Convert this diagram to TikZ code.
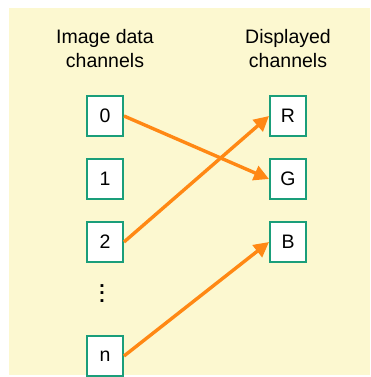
\documentclass[tikz,border=0pt]{standalone}
\usepackage{fontspec}
\setmainfont{Liberation Sans}
\usepackage{tikz}
\usetikzlibrary{arrows.meta, positioning}
\definecolor{panelbg}{RGB}{252, 248, 208}
\definecolor{boxline}{RGB}{26, 158, 122}
\definecolor{mapline}{RGB}{255, 136, 20}
% tall vertical ellipsis made from bold periods
\newcommand{\coldots}{\vbox{\baselineskip7.5pt\lineskiplimit0pt\hbox{.}\hbox{.}\hbox{.}}}
\tikzset{
    font=\fontsize{19.5}{24}\selectfont,
    chan/.style={rectangle, draw=boxline, fill=white, line width=2pt, inner sep=0pt, minimum width=36pt, minimum height=40pt},
    heading/.style={align=center, inner sep=0pt},
    ellip/.style={inner sep=0pt, anchor=base, font=\bfseries\fontsize{19.5}{24}\selectfont},
    maparrow/.style={-{Triangle[length=15pt, width=15pt]}, line width=3.4pt, color=mapline}
}

\begin{document}
\begin{tikzpicture}[x=1pt, y=-1pt, node distance=21pt and 145pt]

    \useasboundingbox (0,0) rectangle (370,377);
    \fill [panelbg] (9,8) rectangle (370,375);

    % source channels
    \node (d0) [chan] at (105,116) {0};
    \node (d1) [chan, below=of d0] {1};
    \node (d2) [chan, below=of d1] {2};
    \node (dn) [chan, below=72pt of d2] {n};
    \node (dots) [ellip] at (102,302) {\coldots};

    % display channels
    \node (r) [chan, right=of d0] {R};
    \node (g) [chan, right=of d1] {G};
    \node (b) [chan, right=of d2] {B};

    \node (insrc)  [heading, above=27pt of d0] {Image data\\channels};
    \node (indisp) [heading, above=27pt of r] {Displayed\\channels};

    \draw [maparrow] (d0.east) -- (g.west);
    \draw [maparrow] (d2.east) -- (r.west);
    \draw [maparrow] (dn.east) -- (b.west);

\end{tikzpicture}
\end{document}
